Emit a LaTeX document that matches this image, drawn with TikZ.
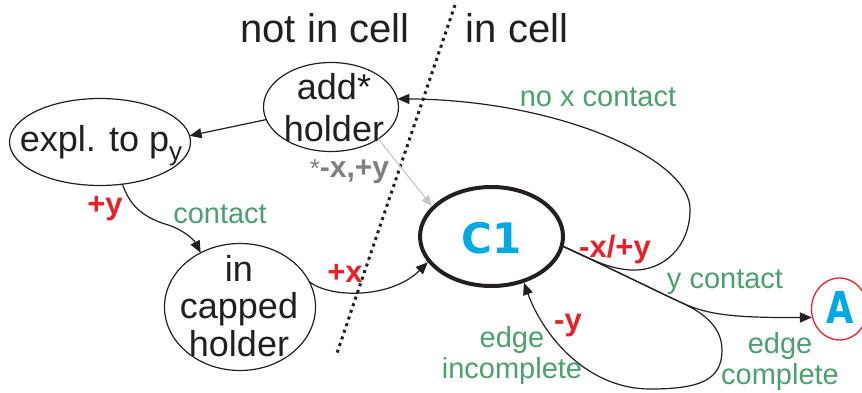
\documentclass[tikz,border=0pt]{standalone}
\usepackage{fontspec}
\setmainfont{Liberation Sans}
\newfontfamily\heavyfont{DejaVu Sans}
\usetikzlibrary{shapes.geometric,arrows.meta}
\definecolor{grn}{RGB}{76,160,110}
\definecolor{rd}{RGB}{232,32,42}
\definecolor{bl}{RGB}{0,168,228}
\definecolor{txt}{RGB}{35,31,32}
\definecolor{gtxt}{RGB}{128,128,128}
\definecolor{gline}{RGB}{200,200,200}
\begin{document}
\begin{tikzpicture}[x=1pt,y=-1pt,
  state/.style={ellipse, draw=txt, line width=1.2pt, inner sep=0pt, outer sep=0pt},
  stext/.style={inner sep=0pt, align=center, text=txt},
  conn/.style={draw=txt, line width=1.2pt, -{Triangle[length=12pt,width=10pt]}},
  gconn/.style={draw=gline, line width=1.2pt, -{Triangle[length=11pt,width=9pt]}},
  glab/.style={text=grn, font=\fontsize{29}{31}\selectfont, inner sep=0pt, align=center},
  rlab/.style={text=rd, font=\fontsize{31}{31}\selectfont\bfseries, inner sep=0pt},
  head/.style={text=txt, font=\fontsize{40}{40}\selectfont, inner sep=0pt},
  divider/.style={draw=txt, line width=3pt, dash pattern=on 3pt off 4pt},
]
\useasboundingbox (0,0) rectangle (862,393);

% headings and divider
\node[head, anchor=base] (hnot) at (325,43) {not in cell};
\node[head, anchor=base] (hin) at (517,43) {in cell};
\coordinate (dtop) at (455,5);
\coordinate (dbot) at (337,353);
\draw[divider] (dtop) -- (dbot);

% states (shapes)
\node[state, minimum width=135pt, minimum height=89pt] (add) at (331,107) {};
\node[state, minimum width=181pt, minimum height=87pt] (expl) at (100,142) {};
\node[state, minimum width=151pt, minimum height=127pt] (capped) at (240,307) {};
\node[ellipse, draw=txt, line width=4pt, inner sep=0pt, outer sep=2pt, minimum width=143pt, minimum height=99pt] (C1) at (491.5,236.5) {};
\node[ellipse, draw=rd, line width=1.3pt, inner sep=0pt, outer sep=0.6pt, minimum width=56pt, minimum height=62pt] (A) at (839.5,309) {};

% state texts (base = baseline of last line)
\node[stext, font=\fontsize{36}{42}\selectfont, anchor=base] (addtxt) at (334,142) {add*\\holder};
\node[stext, font=\fontsize{36}{40}\selectfont, anchor=base] (expltxt) at (101,152) {expl. to p\raisebox{-9pt}{\fontsize{26}{26}\selectfont y}};
\node[stext, font=\fontsize{36}{37.5}\selectfont, anchor=base] (cappedtxt) at (239,356) {in\\capped\\holder};
\node[stext, text=bl, font=\heavyfont\bfseries\fontsize{42}{42}\selectfont, anchor=base] (C1txt) at (492,253) {C1};
\node[stext, text=bl, font=\heavyfont\bfseries\fontsize{44}{44}\selectfont, anchor=base] (Atxt) at (840,323) {\scalebox{0.8}[1]{A}};

% connectors
\draw[conn] (add.191) -- (expl.4);
\draw[conn] (expl.-62) .. controls (129,203) and (140,216) .. (165,224) .. controls (183,229) and (194,240) .. (capped.126);
\draw[conn] (capped.20) .. controls (332,299) and (392,298) .. (C1.-158);
\draw[gconn] (add.-34) -- (C1.153);
% C1 -> A (y contact)
\draw[conn] (C1.-8) .. controls (610,268) and (650,288) .. (680,302) .. controls (705,314) and (730,318) .. (A.197);
% C1 -> add* holder (no x contact)
\draw[conn] (C1.-8) .. controls (590,258) and (605,268) .. (630,270) .. controls (665,272) and (690,245) .. (690,210) .. controls (692,160) and (560,100) .. (add.7);
% C1 -> C1 (edge incomplete)
\draw[conn] (C1.-8) .. controls (610,268) and (650,288) .. (680,302) .. controls (700,311) and (722,325) .. (722,350) .. controls (722,380) and (700,389) .. (650,389) .. controls (590,389) and (545,340) .. (C1.-55);

% labels
\node[glab, anchor=base] (lnox) at (598,107) {no x contact};
\node[glab, anchor=base] (lcont) at (220,223) {contact};
\node[glab, anchor=base] (lycont) at (725,288) {y contact};
\node[glab] (linc) at (512,355.5) {edge\\incomplete};
\node[glab] (lcomp) at (780,361) {edge\\complete};
\node[rlab, anchor=base] (ly) at (105,214) {+y};
\node[rlab, anchor=base] (lx) at (345,282) {+x};
\node[rlab, anchor=base] (lxy) at (615,257) {-x/+y};
\node[rlab, anchor=base] (lmy) at (568,330) {-y};
\node[anchor=base, inner sep=0pt, text=gtxt, font=\fontsize{30}{30}\selectfont] (lgray) at (349.5,178) {{\fontsize{26}{26}\selectfont *}\textbf{-x,+y}};
\end{tikzpicture}
\end{document}
